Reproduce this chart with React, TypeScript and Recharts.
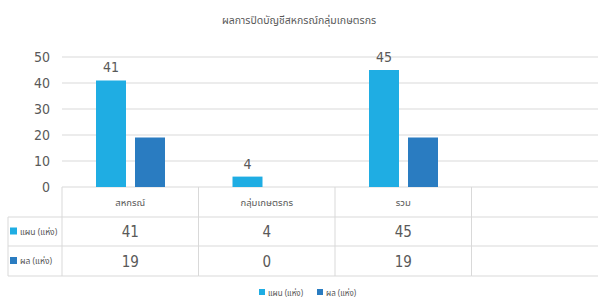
import React from "react";
import {
  BarChart,
  Bar,
  XAxis,
  YAxis,
  CartesianGrid,
  LabelList,
} from "recharts";

const title = "ผลการปิดบัญชีสหกรณ์กลุ่มเกษตรกร";
const categories = ["สหกรณ์", "กลุ่มเกษตรกร", "รวม", ""];
const planValues: (number | null)[] = [41, 4, 45, null];
const resultValues: (number | null)[] = [19, 0, 19, null];
const seriesNames = ["แผน (แห่ง)", "ผล (แห่ง)"];
const yTicks = [0, 10, 20, 30, 40, 50];

const COLORS = ["#1fade3", "#2a7cc1"];
const TEXT = "#595959";
const GRID = "#d9d9d9";
const THAI_FONT = "'Noto Sans Thai', 'Noto Sans Thai Looped', 'Loma', 'Garuda', 'Noto Sans', sans-serif";
const NUM_FONT = "'Liberation Sans Narrow', 'DejaVu Sans Condensed', 'Liberation Sans', sans-serif";

const CHART_W = 612;
const CHART_H = 300;
const MARGIN = { top: 57, right: 4, bottom: 0, left: 0 };
const Y_AXIS_W = 62;
const X_AXIS_H = 113;
const BAND = (CHART_W - MARGIN.left - MARGIN.right - Y_AXIS_W) / categories.length;
const ROW_H = [30, 29, 30];
const LEFT_X = 8;

const data = categories.map((name, i) => ({
  name,
  idx: i,
  plan: planValues[i],
  result: resultValues[i],
}));

const rowValues = [planValues, resultValues];

const TableTick = (props: any) => {
  const { x, y, payload } = props;
  const i: number = payload?.index ?? props.index ?? 0;
  const left = x - BAND / 2;
  const right = x + BAND / 2;
  const r1 = y + ROW_H[0];
  const r2 = r1 + ROW_H[1];
  const r3 = r2 + ROW_H[2];
  const els: React.ReactNode[] = [];
  els.push(<line key="vl" x1={left} y1={y} x2={left} y2={r3} stroke={GRID} strokeWidth={1} />);
  els.push(<line key="h1" x1={left} y1={r1} x2={right} y2={r1} stroke={GRID} strokeWidth={1} />);
  els.push(<line key="h2" x1={left} y1={r2} x2={right} y2={r2} stroke={GRID} strokeWidth={1} />);
  els.push(<line key="h3" x1={left} y1={r3} x2={right} y2={r3} stroke={GRID} strokeWidth={1} />);
  els.push(
    <text key="cat" x={x} y={y + ROW_H[0] / 2 + 4} textAnchor="middle" fontSize={9.5} fill={TEXT} fontFamily={THAI_FONT}>
      {categories[i]}
    </text>
  );
  rowValues.forEach((vals, r) => {
    const v = vals[i];
    const cy = r === 0 ? (r1 + r2) / 2 : (r2 + r3) / 2;
    if (v !== null && v !== undefined) {
      els.push(
        <text key={"v" + r} x={x} y={cy + 5.5} textAnchor="middle" fontSize={15} fill={TEXT} fontFamily={NUM_FONT}>
          {v}
        </text>
      );
    }
  });
  if (i === 0) {
    els.push(<line key="lv" x1={LEFT_X} y1={r1} x2={LEFT_X} y2={r3} stroke={GRID} strokeWidth={1} />);
    els.push(<line key="lh1" x1={LEFT_X} y1={r1} x2={left} y2={r1} stroke={GRID} strokeWidth={1} />);
    els.push(<line key="lh2" x1={LEFT_X} y1={r2} x2={left} y2={r2} stroke={GRID} strokeWidth={1} />);
    els.push(<line key="lh3" x1={LEFT_X} y1={r3} x2={left} y2={r3} stroke={GRID} strokeWidth={1} />);
    seriesNames.forEach((nm, r) => {
      const cy = r === 0 ? (r1 + r2) / 2 : (r2 + r3) / 2;
      els.push(<rect key={"ls" + r} x={LEFT_X + 2} y={cy - 4} width={7} height={7} fill={COLORS[r]} />);
      els.push(
        <text key={"lt" + r} x={LEFT_X + 12} y={cy + 3} fontSize={8.5} fill={TEXT} fontFamily={THAI_FONT}>
          {nm}
        </text>
      );
    });
    const legendX = [259, 317];
    seriesNames.forEach((nm, r) => {
      els.push(<rect key={"gs" + r} x={legendX[r]} y={289} width={6} height={6} fill={COLORS[r]} />);
      els.push(
        <text key={"gt" + r} x={legendX[r] + 9} y={296} fontSize={8} fill={TEXT} fontFamily={THAI_FONT}>
          {nm}
        </text>
      );
    });
  }
  return <g>{els}</g>;
};

export default function App() {
  return (
    <div
      style={{
        position: "fixed",
        top: 0,
        left: 0,
        width: 598,
        height: 300,
        overflow: "hidden",
        background: "#fff",
      }}
    >
      <div
        style={{
          position: "absolute",
          top: 13,
          left: 0,
          width: 598,
          textAlign: "center",
          fontFamily: THAI_FONT,
          fontSize: 10.5,
          color: TEXT,
          zIndex: 2,
        }}
      >
        {title}
      </div>
      <BarChart width={CHART_W} height={CHART_H} data={data} margin={MARGIN} barGap={9}>
        <CartesianGrid vertical={false} stroke={GRID} strokeWidth={1} />
        <XAxis
          dataKey="idx"
          type="category"
          height={X_AXIS_H}
          axisLine={false}
          tickLine={false}
          tickSize={0}
          tickMargin={0}
          interval={0}
          tick={<TableTick />}
        />
        <YAxis
          width={Y_AXIS_W}
          domain={[0, 50]}
          ticks={yTicks}
          axisLine={false}
          tickLine={false}
          tickMargin={6}
          tick={{ fill: TEXT, fontSize: 14, fontFamily: NUM_FONT }}
        />
        <Bar dataKey="plan" name={seriesNames[0]} fill={COLORS[0]} barSize={30} isAnimationActive={false}>
          <LabelList dataKey="plan" position="top" offset={8} fill={TEXT} fontSize={14} fontFamily={NUM_FONT} />
        </Bar>
        <Bar dataKey="result" name={seriesNames[1]} fill={COLORS[1]} barSize={30} isAnimationActive={false} />
      </BarChart>
    </div>
  );
}
